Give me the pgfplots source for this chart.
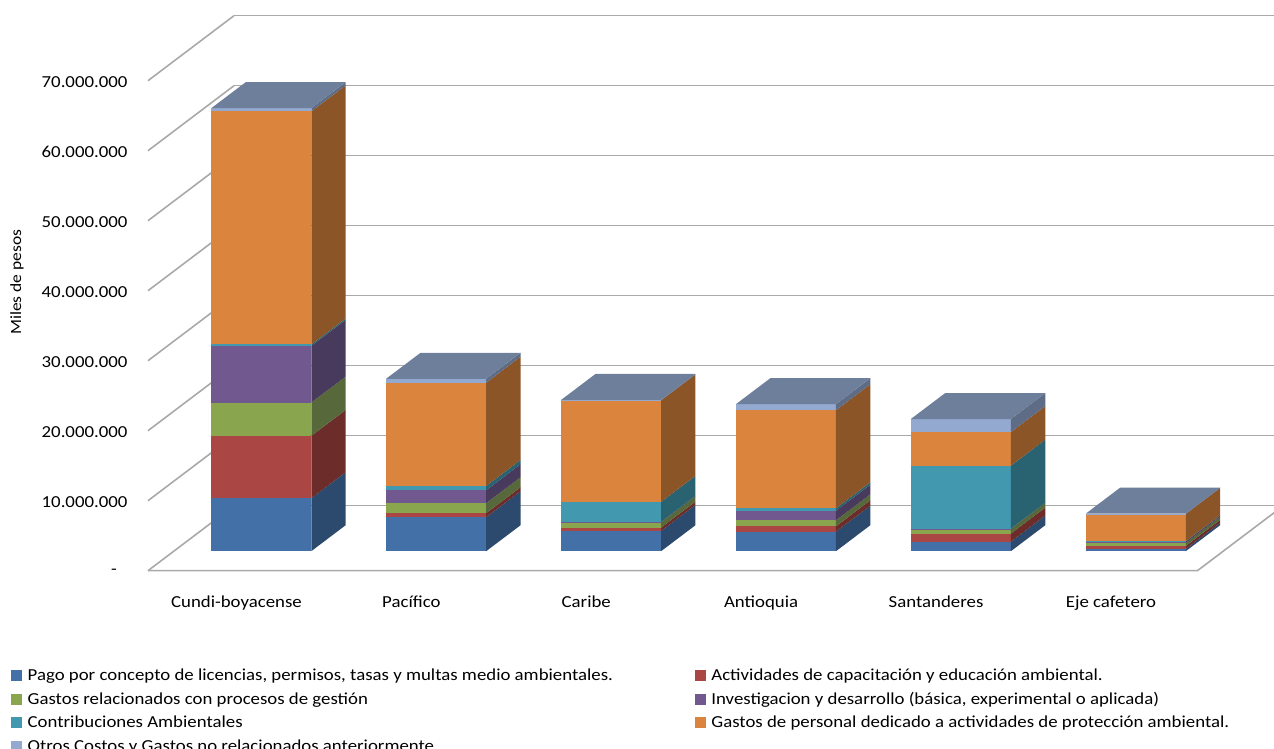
\documentclass[border=0pt]{standalone}
\usepackage{fontspec}
\setmainfont[FakeStretch=1.12]{Carlito}
\usepackage{pgfplots}
\pgfplotsset{compat=1.18}

\definecolor{azulF}{HTML}{4470A8}\definecolor{azulS}{HTML}{2C4A6E}
\definecolor{rojoF}{HTML}{AA4643}\definecolor{rojoS}{HTML}{6B2C2A}
\definecolor{verdF}{HTML}{89A54E}\definecolor{verdS}{HTML}{57693A}
\definecolor{morF}{HTML}{71588F}\definecolor{morS}{HTML}{483A5C}
\definecolor{tealF}{HTML}{4198AF}\definecolor{tealS}{HTML}{296270}
\definecolor{naraF}{HTML}{DB843D}\definecolor{naraS}{HTML}{8C5528}
\definecolor{celeF}{HTML}{93A9CF}\definecolor{celeS}{HTML}{5E6D85}
\definecolor{tapa}{HTML}{6E7F9B}
\definecolor{rejilla}{HTML}{A9A9A9}

% one stack segment: value, front colour, side colour
\newcommand{\seg}[3]{%
  \pgfmathsetmacro\zt{\zb+#1}%
  \edef\caras{%
    \noexpand\addplot3[forget plot,draw=none,fill=#2] coordinates {(\xl,0.3,\zb)(\xr,0.3,\zb)(\xr,0.3,\zt)(\xl,0.3,\zt)};
    \noexpand\addplot3[forget plot,draw=none,fill=#3] coordinates {(\xr,0.3,\zb)(\xr,0.7,\zb)(\xr,0.7,\zt)(\xr,0.3,\zt)};
  }\caras
  \global\let\zb\zt}
% one bar: category position, then the seven values in legend order
\newcommand{\barra}[8]{%
  \pgfmathsetmacro\xl{#1-0.286}\pgfmathsetmacro\xr{#1+0.286}%
  \gdef\zb{0}%
  \seg{#2}{azulF}{azulS}\seg{#3}{rojoF}{rojoS}\seg{#4}{verdF}{verdS}%
  \seg{#5}{morF}{morS}\seg{#6}{tealF}{tealS}\seg{#7}{naraF}{naraS}\seg{#8}{celeF}{celeS}%
  \edef\caras{\noexpand\addplot3[forget plot,draw=none,fill=tapa] coordinates {(\xl,0.3,\zb)(\xr,0.3,\zb)(\xr,0.7,\zb)(\xl,0.7,\zb)};}\caras}

\begin{document}
\begin{tikzpicture}
\path[use as bounding box,clip] (0pt,0pt) rectangle (1274pt,749pt);
\begin{axis}[
    anchor=origin, at={(148pt,178.3pt)},
    x={(174.9pt,0pt)}, y={(86pt,65pt)}, z={(0pt,7pt)},
    xmin=0, xmax=6, ymin=0, ymax=1, zmin=0, zmax=70,
    clip=false,
    axis line style={draw=none},
    major tick length=0pt,
    xtick={0.5,1.5,2.5,3.5,4.5,5.5},
    xticklabels={Cundi-boyacense,Pacífico,Caribe,Antioquia,Santanderes,Eje cafetero},
    ytick=\empty,
    ztick={0,10,20,30,40,50,60,70},
    zticklabels={{\raisebox{-3pt}{-}\rule{10.5pt}{0pt}},10.000.000,20.000.000,30.000.000,40.000.000,50.000.000,60.000.000,70.000.000},
    zmajorgrids=true,
    grid style={draw=rejilla,line width=1.6pt},
    tick label style={font=\fontsize{16.8}{19}\selectfont},
    xticklabel style={anchor=north,yshift=-22pt,xshift=1pt},
    zticklabel style={anchor=east,xshift=-17pt,yshift=-1pt},
    legend columns=2,
    legend cell align=left,
    legend style={draw=none,fill=none,at={(axis cs:-0.80,0,-13.4)},anchor=north west,
      font=\fontsize{16.8}{19}\selectfont,row sep=6.2pt,
      /tikz/column 1/.style={column sep=4pt},
      /tikz/column 2/.style={column sep=80pt},
      /tikz/column 3/.style={column sep=4pt}},
    legend image code/.code={\fill[#1] (0pt,-5pt) rectangle (10pt,5pt);},
]
\addplot3[forget plot,draw=rejilla,line width=1.6pt] coordinates {(0,0,0)(6,0,0)(6,1,0)};

%        x    blue  red   green purple teal  orange ltblue
\barra{0.5}{7.57}{8.90}{4.76}{8.10}{0.20}{33.30}{0.45}
\barra{1.5}{4.86}{0.57}{1.43}{1.86}{0.60}{14.76}{0.55}
\barra{2.5}{2.90}{0.47}{0.77}{0.05}{2.86}{14.50}{0.05}
\barra{3.5}{2.80}{0.76}{0.86}{1.37}{0.35}{14.00}{0.86}
\barra{4.5}{1.38}{1.14}{0.67}{0.03}{9.00}{4.80}{1.86}
\barra{5.5}{0.33}{0.43}{0.43}{0.19}{0.05}{3.90}{0.03}

\addlegendimage{azulF}\addlegendentry{Pago por concepto de licencias, permisos, tasas y multas medio ambientales.}
\addlegendimage{rojoF}\addlegendentry{Actividades de capacitación y educación ambiental.}
\addlegendimage{verdF}\addlegendentry{Gastos relacionados con procesos de gestión}
\addlegendimage{morF}\addlegendentry{Investigacion y desarrollo (básica, experimental o aplicada)}
\addlegendimage{tealF}\addlegendentry{Contribuciones Ambientales}
\addlegendimage{naraF}\addlegendentry{Gastos de personal dedicado a actividades de protección ambiental.}
\addlegendimage{celeF}\addlegendentry{Otros Costos y Gastos no relacionados anteriormente}

\node[rotate=90,font=\fontsize{15.6}{18}\selectfont] at (axis cs:-0.749,0,41.2) {Miles de pesos};
\end{axis}
\end{tikzpicture}
\end{document}
